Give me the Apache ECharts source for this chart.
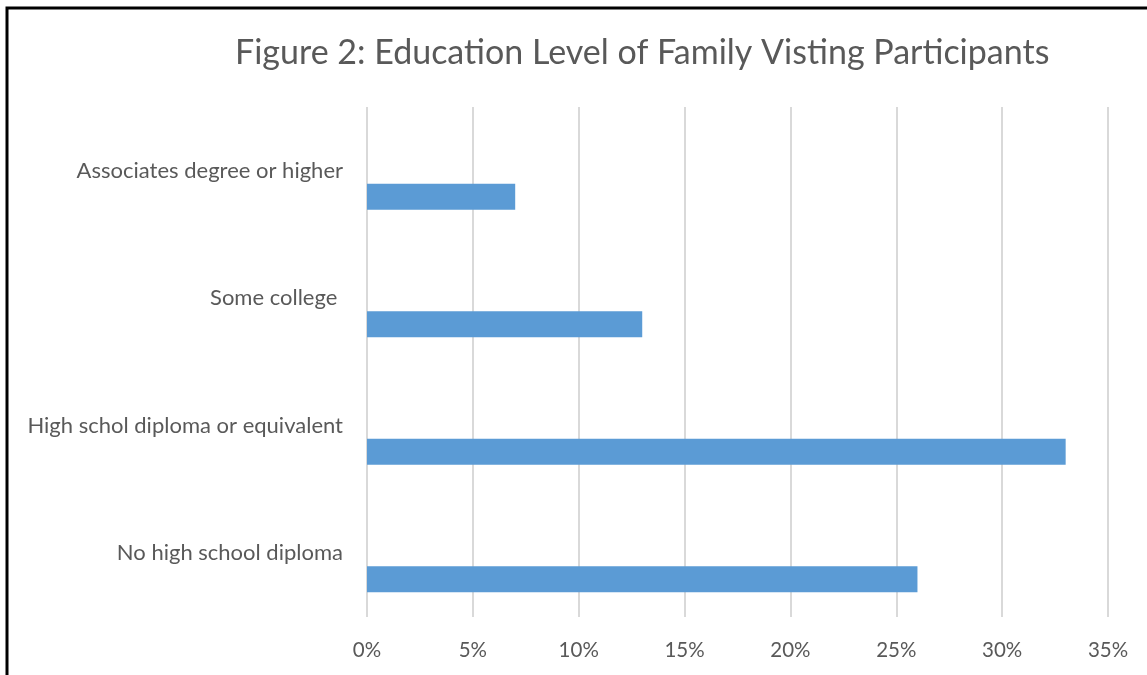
<!DOCTYPE html>
<html>
<head>
<meta charset="utf-8">
<style>
html,body{margin:0;padding:0;background:#fff;}
#c{width:1147px;height:675px;}
</style>
<script src="https://cdn.jsdelivr.net/npm/echarts@6/dist/echarts.min.js"></script>
</head>
<body>
<div id="c"></div>
<script>
const categories = ['No high school diploma', 'High schol diploma or equivalent', 'Some college ', 'Associates degree or higher'];
const percentValues = [26, 33, 13, 7];
const placeholderValues = [null, null, null, null];
const titleText = 'Figure 2: Education Level of Family Visting Participants';

const chart = echarts.init(document.getElementById('c'), null, {renderer: 'canvas'});
const font = 'Lato, "Open Sans", sans-serif';
chart.setOption({
  backgroundColor: '#ffffff',
  animation: false,
  title: {
    text: titleText,
    left: 230,
    top: 31,
    textStyle: {fontFamily: font, fontSize: 34, fontWeight: 'normal', color: '#595959'}
  },
  graphic: [{
    type: 'rect',
    shape: {x: 7, y: 8, width: 1400, height: 1000},
    style: {fill: 'none', stroke: '#000', lineWidth: 3},
    z: 100
  }],
  grid: {left: 367, right: 39, top: 107, bottom: 58, containLabel: false},
  xAxis: {
    type: 'value',
    min: 0, max: 35, interval: 5,
    axisLine: {show: false},
    axisTick: {show: false},
    axisLabel: {formatter: '{value}%', fontFamily: font, fontSize: 20.5, color: '#595959', margin: 23},
    splitLine: {show: true, lineStyle: {color: '#d9d9d9', width: 2}}
  },
  yAxis: {
    type: 'category',
    data: categories,
    axisLine: {show: false},
    axisTick: {show: false},
    axisLabel: {fontFamily: font, fontSize: 22, color: '#595959', margin: 24}
  },
  series: [
    {type: 'bar', data: placeholderValues, barWidth: 26, barGap: '100%', itemStyle: {color: '#ed7d31'}},
    {type: 'bar', data: percentValues, barWidth: 26, barGap: '100%', itemStyle: {color: '#5b9bd5'}}
  ]
});
</script>
</body>
</html>
